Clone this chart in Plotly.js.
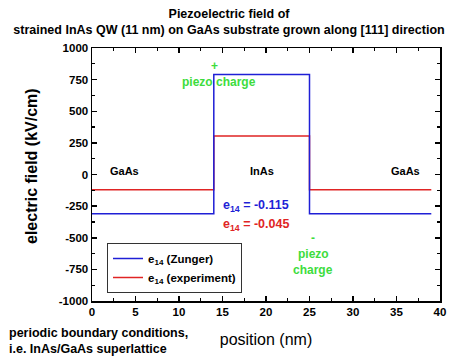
<!DOCTYPE html>
<html>
<head>
<meta charset="utf-8">
<script src="https://cdn.plot.ly/plotly-3.0.1.min.js"></script>
<style>html,body{margin:0;padding:0;background:#fff;}#chart{width:458px;height:363px;}</style>
</head>
<body>
<div id="chart"></div>
<script>
// Data (positions in nm, fields in kV/cm)
const position = [0, 14, 14, 25, 25, 39];
const fieldZunger = [-310, -310, 790, 790, -310, -310];
const fieldExperiment = [-120, -120, 305, 305, -120, -120];
const seriesNames = ['e<sub>14</sub> (Zunger)', 'e<sub>14</sub> (experiment)'];
const xTicks = [0, 5, 10, 15, 20, 25, 30, 35, 40];
const yTicks = [-1000, -750, -500, -250, 0, 250, 500, 750, 1000];

const F = 'Liberation Sans, Arial, sans-serif';
const green = '#3ddc3d';
const blue = '#1f1fd6';
const red = '#e02424';

const traces = [
  {x: position, y: fieldExperiment, type: 'scatter', mode: 'lines', name: '<b>' + seriesNames[1] + '</b>',
   line: {color: red, width: 1.5}, legendrank: 2},
  {x: position, y: fieldZunger, type: 'scatter', mode: 'lines', name: '<b>' + seriesNames[0] + '</b>',
   line: {color: blue, width: 1.5}, legendrank: 1}
];

function px(p){return (p-92)/348;}
function py(p){return (301-p)/253;}
function ann(text, x, y, color, size, extra){
  return Object.assign({text: '<b>' + text + '</b>', xref: 'paper', yref: 'paper', x: px(x), y: py(y),
    showarrow: false, xanchor: 'center', yanchor: 'middle',
    font: {family: F, size: size || 11, color: color || '#000'}}, extra || {});
}

const axisCommon = {
  showline: true, linecolor: '#000', linewidth: 1.5, mirror: 'allticks',
  ticks: 'inside', ticklen: 5, tickwidth: 1.5, tickcolor: '#000',
  showgrid: false, zeroline: false,
  tickfont: {family: F, size: 11.5, color: '#000'}
};

const layout = {
  width: 458, height: 363,
  margin: {l: 92, r: 18, t: 48, b: 62},
  paper_bgcolor: '#fff', plot_bgcolor: '#fff',
  title: {text: '<b>Piezoelectric field of<br>strained InAs QW (11 nm) on GaAs substrate grown along [111] direction</b>',
    x: 0.5, xref: 'container', xanchor: 'center', y: 0.95, yref: 'container', yanchor: 'top',
    font: {family: F, size: 12.5, color: '#000'}},
  xaxis: Object.assign({}, axisCommon, {
    range: [0, 40], tickvals: xTicks, ticktext: xTicks.map(v => '<b>' + v + '</b>'),
    minor: {dtick: 2.5, ticks: 'inside', ticklen: 3, tickwidth: 1.2, tickcolor: '#000'},
    title: {text: 'position (nm)', standoff: 16, font: {family: F, size: 16, color: '#000'}}
  }),
  yaxis: Object.assign({}, axisCommon, {
    range: [-1000, 1000], tickvals: yTicks, ticktext: yTicks.map(v => '<b>' + v + '</b>'),
    minor: {dtick: 125, ticks: 'inside', ticklen: 3, tickwidth: 1.2, tickcolor: '#000'}
  }),
  showlegend: true,
  legend: {x: px(107), y: py(293), xanchor: 'left', yanchor: 'bottom',
    bgcolor: '#fff', bordercolor: '#333', borderwidth: 1,
    font: {family: F, size: 11.5, color: '#000'},
    itemwidth: 30, tracegroupgap: 0},
  annotations: [
    ann('electric field (kV/cm)', 31, 166, '#000', 16, {textangle: -90}),
    ann('GaAs', 124, 171),
    ann('InAs', 262, 171),
    ann('GaAs', 405, 171),
    ann('e<sub>14</sub> = -0.115', 256, 206, blue, 12.5),
    ann('e<sub>14</sub> = -0.045', 256, 225, red, 12.5),
    ann('+', 214, 66, green, 12),
    ann('piezo charge', 219, 82, green, 12),
    ann('-', 313, 238, green, 12),
    ann('piezo', 313, 254, green, 12),
    ann('charge', 313, 270, green, 12),
    ann('periodic boundary conditions,<br>i.e. InAs/GaAs superlattice', 7, 341, '#000', 12.5,
      {xanchor: 'left', align: 'left'})
  ]
};

Plotly.newPlot('chart', traces, layout, {displayModeBar: false, staticPlot: true});
</script>
</body>
</html>
